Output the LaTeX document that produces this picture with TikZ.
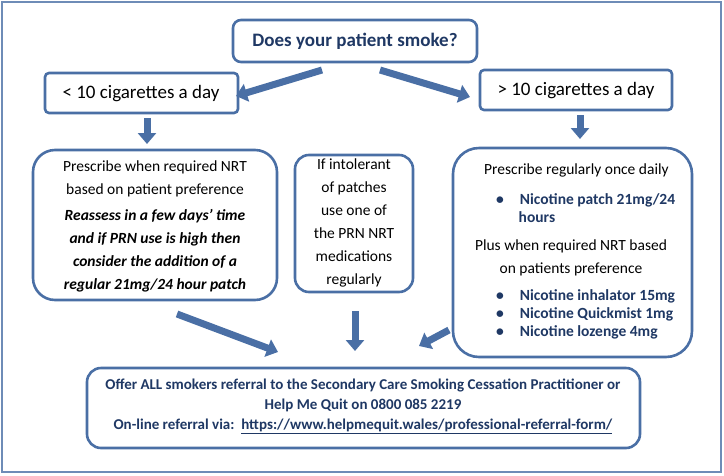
\documentclass[tikz,border=0pt]{standalone}
\usepackage{fontspec}
\setmainfont{Carlito}
\usetikzlibrary{arrows.meta}
\definecolor{fr}{HTML}{4A6FA5}
\definecolor{tx}{HTML}{1F3864}
\begin{document}
\begin{tikzpicture}[x=1pt,y=-1pt,
  bx/.style={draw=fr,line width=2.6pt,rounded corners=#1,fill=white},
  bx/.default=8pt,
  fat/.style={draw=fr,line width=7pt,-{Triangle[width=18pt,length=11pt]}},
  t/.style={font=\fontsize{15.5}{23}\selectfont,align=center,inner sep=0pt},
  b/.style={text=tx,font=\fontsize{15.5}{18}\selectfont\bfseries}]
\useasboundingbox (0,0) rectangle (724,475);
\draw[draw=fr!80,line width=2pt] (2,2) rectangle (721,472);
% boxes
\draw[bx] (233,20) rectangle (477,62);
\node[t,text=tx,font=\fontsize{19}{20}\selectfont\bfseries] (q) at (355,41) {Does your patient smoke?};
\draw[bx=4pt] (45,73) rectangle (238,113);
\node[t,font=\fontsize{19}{20}\selectfont] (l) at (141,94) {< 10 cigarettes a day};
\draw[bx=4pt] (480,70) rectangle (672,110);
\node[t,font=\fontsize{19}{20}\selectfont] (r) at (576,91) {> 10 cigarettes a day};
\draw[bx=22pt] (33,150) rectangle (277,300);
\node[t] (lb) at (155,226) {Prescribe when required NRT\\based on patient preference\\[3pt]
\bfseries\itshape Reassess in a few days’ time\\\bfseries\itshape and if PRN use is high then\\\bfseries\itshape consider the addition of a\\\bfseries\itshape regular 21mg/24 hour patch};
\draw[bx=14pt] (295,155) rectangle (413,292);
\node[t] (mb) at (354,223) {If intolerant\\of patches\\use one of\\the PRN NRT\\medications\\regularly};
\draw[bx=26pt] (453,148) rectangle (692,357);
\node[t,anchor=north west] at (484,164) {Prescribe regularly once daily};
\node[anchor=north west,inner sep=0pt,b,align=left] at (496,193) {•\hspace{16pt}Nicotine patch 21mg/24\\\hspace*{22.5pt}hours};
\node[t,anchor=north] at (571,240) {Plus when required NRT based\\on patients preference};
\node[anchor=north west,inner sep=0pt,b,align=left] at (496,289) {•\hspace{16pt}Nicotine inhalator 15mg\\•\hspace{16pt}Nicotine Quickmist 1mg\\•\hspace{16pt}Nicotine lozenge 4mg};
\draw[bx=14pt] (87,368) rectangle (640,448);
\node[t,b,font=\fontsize{15}{20}\selectfont\bfseries] (bt) at (363,406) {Offer ALL smokers referral to the Secondary Care Smoking Cessation Practitioner or\\Help Me Quit on 0800 085 2219\\On-line referral via:\ \ \underline{https://www.helpmequit.wales/professional-referral-form/}};
% arrows
\coordinate (a1) at (322,70); \coordinate (a2) at (236,96);
\coordinate (a3) at (380,70); \coordinate (a4) at (470,97);
\coordinate (a5) at (147,118); \coordinate (a6) at (147,144);
\coordinate (a7) at (580,115); \coordinate (a8) at (580,139);
\coordinate (a9) at (177,314); \coordinate (a10) at (278,352);
\coordinate (a11) at (355,311); \coordinate (a12) at (355,351);
\coordinate (a13) at (449,330); \coordinate (a14) at (419,346);
\draw[fat] (a1) -- (a2);
\draw[fat] (a3) -- (a4);
\draw[fat] (a5) -- (a6);
\draw[fat] (a7) -- (a8);
\draw[fat] (a9) -- (a10);
\draw[fat] (a11) -- (a12);
\draw[fat] (a13) -- (a14);
\end{tikzpicture}
\end{document}
